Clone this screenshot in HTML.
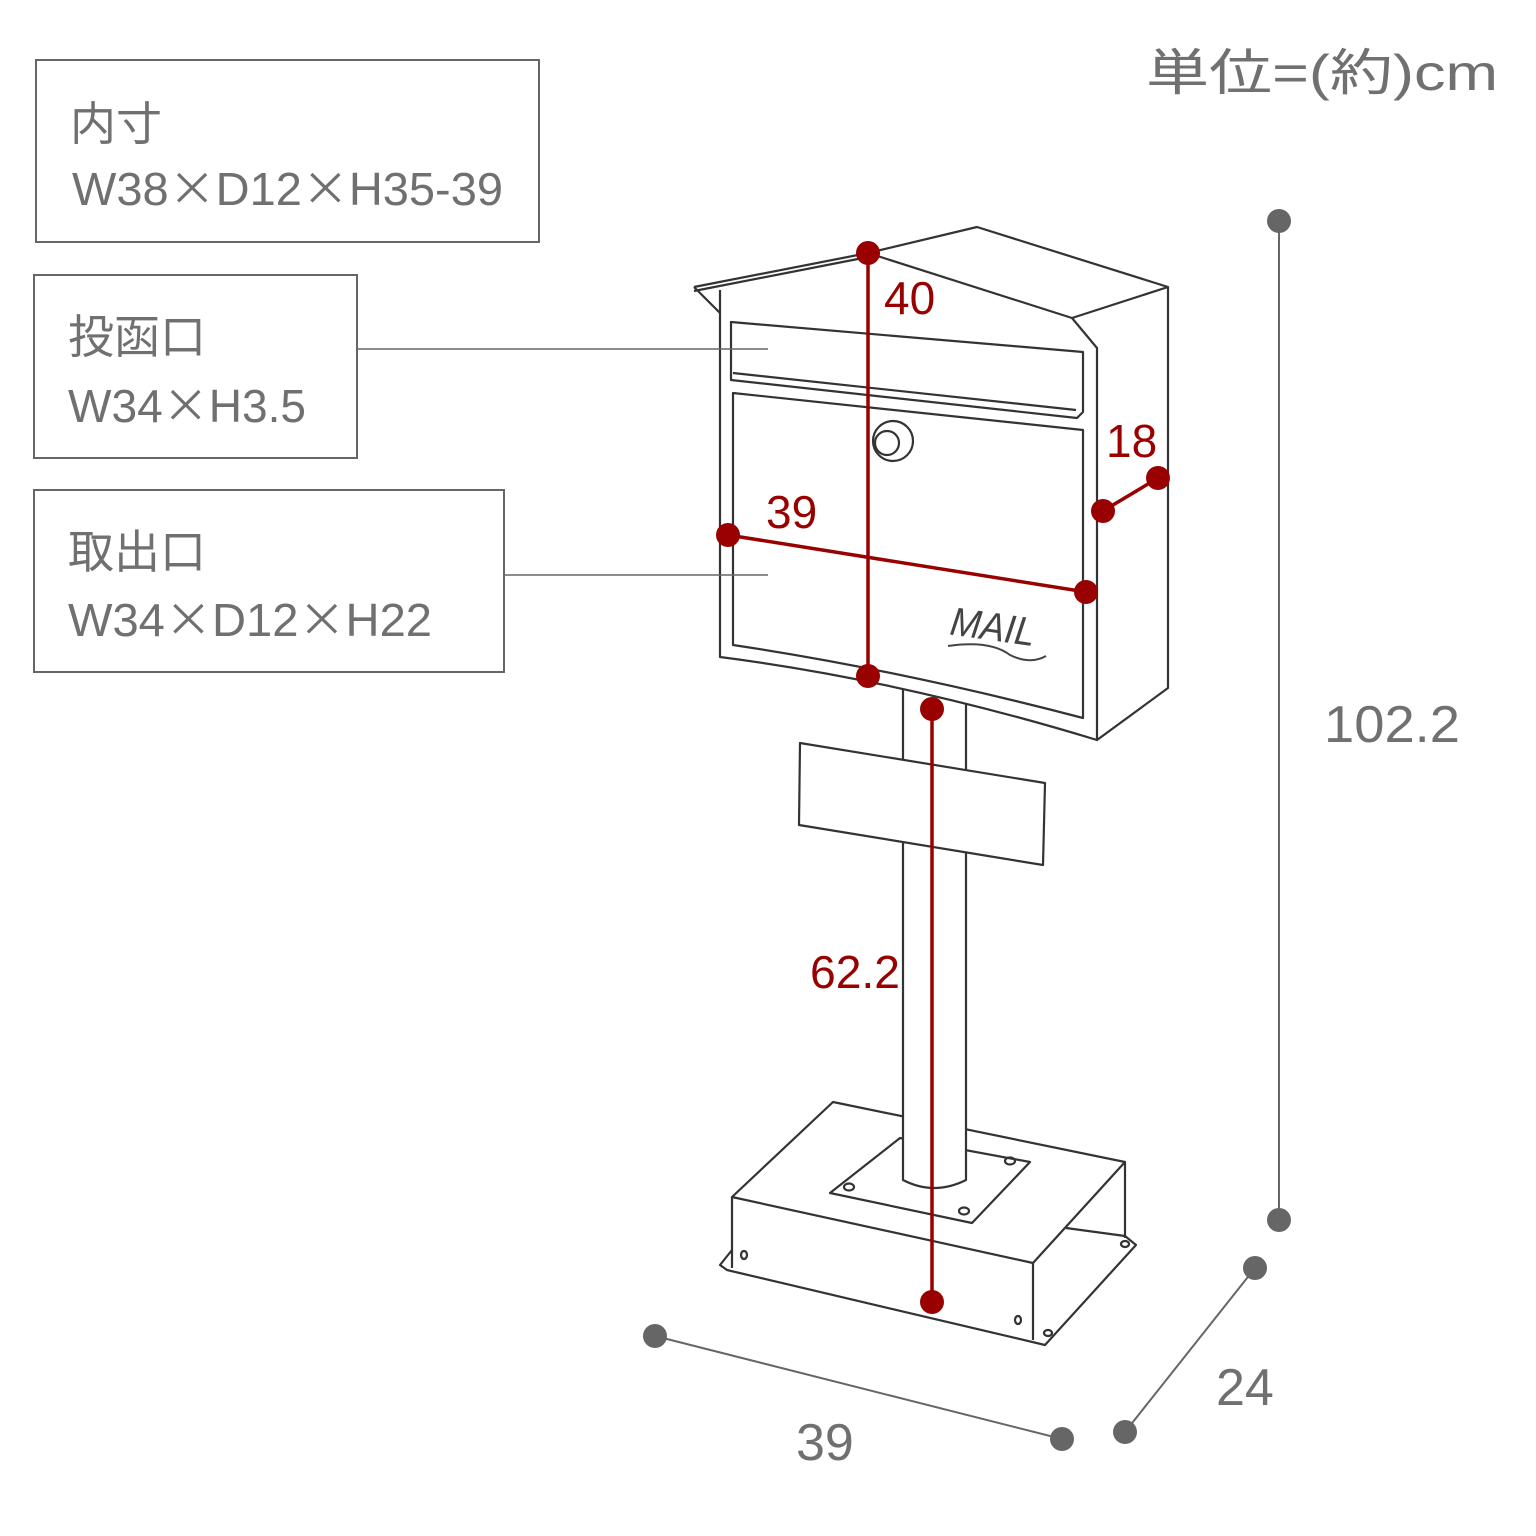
<!DOCTYPE html>
<html><head><meta charset="utf-8"><style>
html,body{margin:0;padding:0;background:#fff;}
svg{display:block;}
text{font-family:"Liberation Sans","Noto Sans CJK JP",sans-serif;}
</style></head><body>
<svg width="1536" height="1536" viewBox="0 0 1536 1536" xmlns="http://www.w3.org/2000/svg">
<!-- label boxes -->
<g fill="none" stroke="#666" stroke-width="2">
<rect x="36" y="60" width="503" height="182"/>
<rect x="34" y="275" width="323" height="183"/>
<rect x="34" y="490" width="470" height="182"/>
</g>
<g fill="#707070" font-size="46">
<text x="70" y="140">内寸</text>
<text x="72" y="205" textLength="431" lengthAdjust="spacingAndGlyphs">W38<tspan font-family="Noto Sans CJK JP">×</tspan>D12<tspan font-family="Noto Sans CJK JP">×</tspan>H35-39</text>
<text x="68" y="353">投函口</text>
<text x="68" y="422" textLength="238" lengthAdjust="spacingAndGlyphs">W34<tspan font-family="Noto Sans CJK JP">×</tspan>H3.5</text>
<text x="68" y="568">取出口</text>
<text x="68" y="636" textLength="364" lengthAdjust="spacingAndGlyphs">W34<tspan font-family="Noto Sans CJK JP">×</tspan>D12<tspan font-family="Noto Sans CJK JP">×</tspan>H22</text>
<text x="1146" y="90" font-size="50" textLength="352" lengthAdjust="spacingAndGlyphs">単位=(約)cm</text>
<text x="1324" y="742" font-size="52" textLength="136" lengthAdjust="spacingAndGlyphs">102.2</text>
<text x="1216" y="1405" font-size="52">24</text>
<text x="796" y="1460" font-size="52">39</text>
</g>
<g fill="none" stroke="#333" stroke-width="2.2" stroke-linejoin="round">
<!-- base -->
<path d="M732,1250 L720,1265 L727,1270 L1045,1345 L1136,1245 L1125,1236 M1066,1228 L1125,1236" fill="#fff"/>
<path d="M833,1102 L1125,1162 L1033,1263 L732,1197 Z" fill="#fff"/>
<path d="M732,1197 L732,1268 M1033,1263 L1033,1340 M1125,1162 L1125,1238"/>
<path d="M830,1193 L900,1138 L1030,1162 L972,1223 Z" fill="#fff"/>
<ellipse cx="849" cy="1187" rx="5" ry="3.5"/><ellipse cx="1010" cy="1161" rx="5" ry="3.5"/>
<ellipse cx="964" cy="1211" rx="5" ry="3.5"/><ellipse cx="744" cy="1255" rx="3" ry="4"/>
<ellipse cx="1018" cy="1320" rx="3" ry="4"/><ellipse cx="1048" cy="1333" rx="4" ry="3"/><ellipse cx="1125" cy="1244" rx="4" ry="3"/>
<!-- pole -->
<path d="M903,680 L903,1180 Q934,1196 966,1180 L966,680 Z" fill="#fff"/>
<!-- mailbox -->
<path d="M694,287 L868,253 L977,227 L1168,287 L1168,688 L1097,740 Q900,680 720,657 L720,313 Z" fill="#fff" stroke="none"/>
<path d="M694,287 L868,253 L977,227 L1168,287 L1168,688 L1097,740 L1097,348 L1072,318 L868,253"/>
<path d="M1072,318 L1168,287"/>
<path d="M694,287 L720,313 M694,291 L868,257"/>
<path d="M720,290 L720,657 Q900,680 1097,740"/>
<path d="M731,322 L1083,352 L1083,412 L1077,418 L731,380 Z"/>
<path d="M733,373 L1076,410"/>
<path d="M733,393 L1083,430 L1083,718 Q900,670 733,645 Z"/>
<circle cx="893" cy="441" r="20"/>
<circle cx="887" cy="443" r="12"/>
<!-- sign -->
<path d="M800,743 L1045,783 L1043,865 L799,825 Z" fill="#fff"/>
</g>
<g font-size="40" font-style="italic" fill="#444"><text x="950" y="640" transform="rotate(8 990 630)" textLength="85" lengthAdjust="spacingAndGlyphs">MAIL</text></g>
<path d="M948,646 Q990,640 1010,655 Q1030,665 1046,656" fill="none" stroke="#444" stroke-width="2"/>
<!-- leaders -->
<g stroke="#666" stroke-width="1.5">
<line x1="357" y1="349" x2="768" y2="349"/>
<line x1="504" y1="575" x2="768" y2="575"/>
</g>
<!-- red dims -->
<g stroke="#990000" stroke-width="3.5" fill="#990000">
<line x1="868" y1="253" x2="868" y2="676"/>
<line x1="728" y1="535" x2="1086" y2="592"/>
<line x1="1103" y1="511" x2="1158" y2="478"/>
<line x1="932" y1="709" x2="932" y2="1302"/>
<g stroke="none">
<circle cx="868" cy="253" r="12"/><circle cx="868" cy="676" r="12"/>
<circle cx="728" cy="535" r="12"/><circle cx="1086" cy="592" r="12"/>
<circle cx="1103" cy="511" r="12"/><circle cx="1158" cy="478" r="12"/>
<circle cx="932" cy="709" r="12"/><circle cx="932" cy="1302" r="12"/>
</g></g>
<g fill="#990000" font-size="46">
<text x="884" y="314">40</text>
<text x="766" y="528">39</text>
<text x="1106" y="457">18</text>
<text x="810" y="988" textLength="90" lengthAdjust="spacingAndGlyphs">62.2</text>
</g>
<!-- gray dims -->
<g stroke="#666" stroke-width="2" fill="#666">
<line x1="1279" y1="221" x2="1279" y2="1220"/>
<line x1="655" y1="1336" x2="1062" y2="1439"/>
<line x1="1255" y1="1268" x2="1125" y2="1432"/>
<g stroke="none">
<circle cx="1279" cy="221" r="12"/><circle cx="1279" cy="1220" r="12"/>
<circle cx="655" cy="1336" r="12"/><circle cx="1062" cy="1439" r="12"/>
<circle cx="1255" cy="1268" r="12"/><circle cx="1125" cy="1432" r="12"/>
</g></g>
</svg>
</body></html>
